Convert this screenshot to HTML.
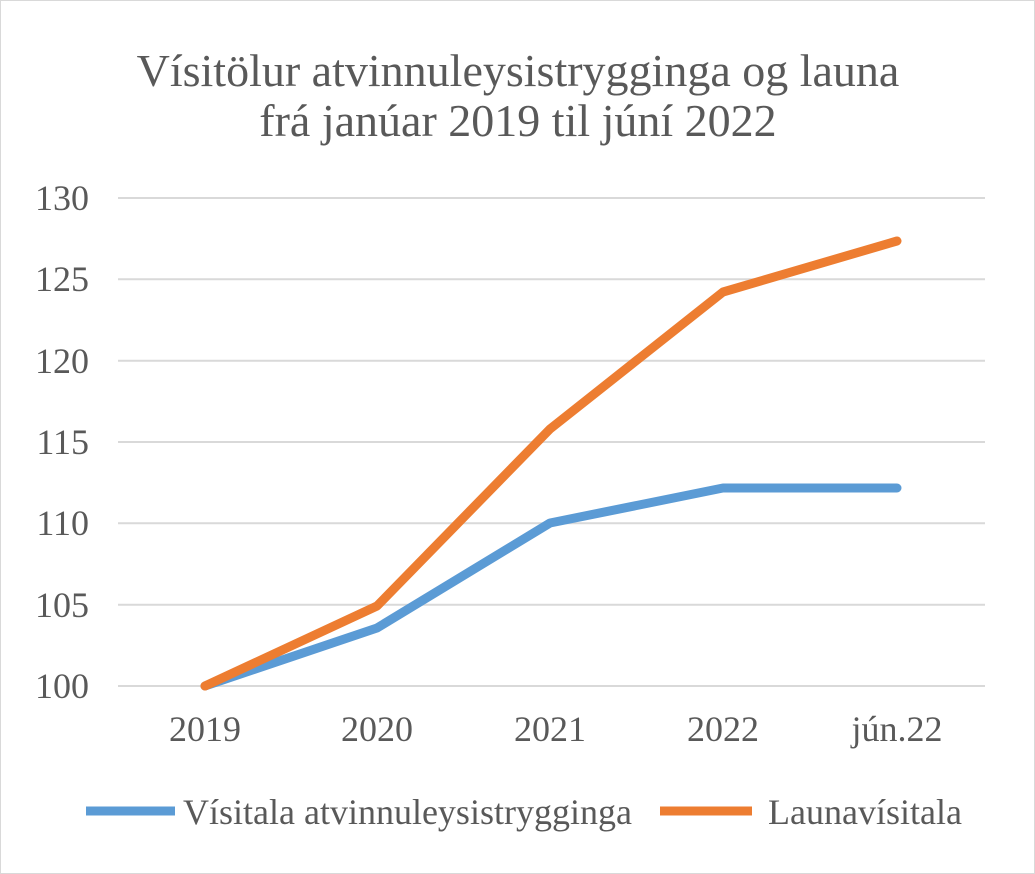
<!DOCTYPE html>
<html><head><meta charset="utf-8"><style>
html,body{margin:0;padding:0;background:#fff;}
svg{display:block;}
text{font-family:"Liberation Serif",serif;fill:#595959;}
</style></head><body>
<svg width="1035" height="874" viewBox="0 0 1035 874">
<rect x="0.5" y="0.5" width="1034" height="873" fill="#fff" stroke="#d9d9d9"/>
<text x="518" y="86" font-size="46" text-anchor="middle">Vísitölur atvinnuleysistrygginga og launa</text>
<text x="518" y="136" font-size="46" text-anchor="middle">frá janúar 2019 til júní 2022</text>
<g stroke="#d9d9d9" stroke-width="2">
<line x1="118" x2="985" y1="198" y2="198"/>
<line x1="118" x2="985" y1="279.3" y2="279.3"/>
<line x1="118" x2="985" y1="360.7" y2="360.7"/>
<line x1="118" x2="985" y1="442" y2="442"/>
<line x1="118" x2="985" y1="523.3" y2="523.3"/>
<line x1="118" x2="985" y1="604.7" y2="604.7"/>
<line x1="118" x2="985" y1="686" y2="686"/>
</g>
<g font-size="36" text-anchor="end">
<text x="89" y="210">130</text>
<text x="89" y="291">125</text>
<text x="89" y="373">120</text>
<text x="89" y="454">115</text>
<text x="89" y="535">110</text>
<text x="89" y="617">105</text>
<text x="89" y="698">100</text>
</g>
<g font-size="36" text-anchor="middle">
<text x="205" y="741">2019</text>
<text x="377" y="741">2020</text>
<text x="550" y="741">2021</text>
<text x="723" y="741">2022</text>
<text x="897" y="741">jún.22</text>
</g>
<polyline fill="none" stroke="#5b9bd5" stroke-width="9" stroke-linejoin="round" stroke-linecap="round" points="205,686 377,628 550,523 723,488 897,488"/>
<polyline fill="none" stroke="#ed7d31" stroke-width="9" stroke-linejoin="round" stroke-linecap="round" points="205,686 377,606 550,429 723,292 897,241"/>
<line x1="86" x2="175" y1="811" y2="811" stroke="#5b9bd5" stroke-width="9"/>
<text x="183" y="824" font-size="36">Vísitala atvinnuleysistrygginga</text>
<line x1="660" x2="752" y1="811" y2="811" stroke="#ed7d31" stroke-width="9"/>
<text x="768" y="824" font-size="36">Launavísitala</text>
</svg>
</body></html>
